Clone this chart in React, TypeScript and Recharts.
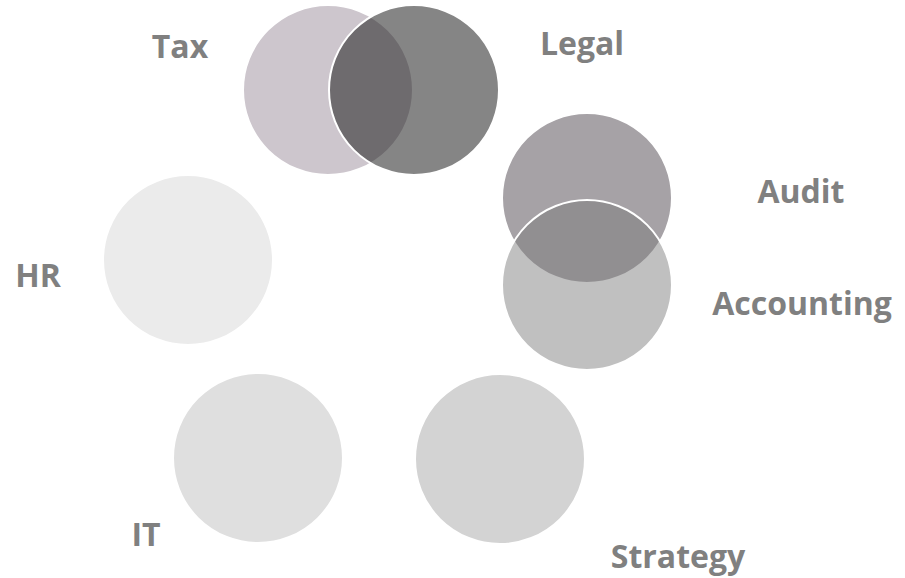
import { ScatterChart, Scatter, XAxis, YAxis } from 'recharts';

// service areas, in drawing order (Legal sits over Tax, Accounting over Audit)
const services = ['Tax', 'Legal', 'Audit', 'Accounting', 'Strategy', 'IT', 'HR'];
const circleX = [328, 414, 587, 587, 500, 258, 188];
const circleY = [90, 90, 198, 285, 459, 458, 260];
const labelX = [180, 582, 801, 802, 678, 146, 38];
const labelY = [45, 42, 190, 302, 555, 533, 274];

const fills = ['#cdc6cd', '#212121', '#a6a2a6', '#7c7c7c', '#d3d3d3', '#dfdfdf', '#ebebeb'];
const opacities = [1, 0.55, 1, 0.48, 1, 1, 1];

const W = 905;
const H = 578;
const R = 85;

const circles = services.map((name, i) => ({ name, x: circleX[i], y: circleY[i], i }));
const labels = services.map((name, i) => ({ name, x: labelX[i], y: labelY[i] }));

function Bubble(props: any) {
  const { cx, cy, payload } = props;
  return (
    <circle
      cx={cx}
      cy={cy}
      r={R}
      fill={fills[payload.i]}
      fillOpacity={opacities[payload.i]}
      stroke="#ffffff"
      strokeWidth={2}
    />
  );
}

function Caption(props: any) {
  const { cx, cy, payload } = props;
  return (
    <text
      x={cx}
      y={cy}
      textAnchor="middle"
      dominantBaseline="central"
      fill="#808080"
      fontFamily="'Open Sans', sans-serif"
      fontWeight={700}
      fontSize={32}
    >
      {payload.name}
    </text>
  );
}

export default function App() {
  return (
    <div style={{ position: 'absolute', left: 0, top: 0, background: '#fff' }}>
      <ScatterChart width={W} height={H} margin={{ top: 0, right: 0, bottom: 0, left: 0 }}>
        <XAxis type="number" dataKey="x" domain={[0, W]} hide />
        <YAxis type="number" dataKey="y" domain={[0, H]} reversed hide />
        <Scatter data={circles} shape={Bubble} isAnimationActive={false} />
        <Scatter data={labels} shape={Caption} isAnimationActive={false} />
      </ScatterChart>
    </div>
  );
}
